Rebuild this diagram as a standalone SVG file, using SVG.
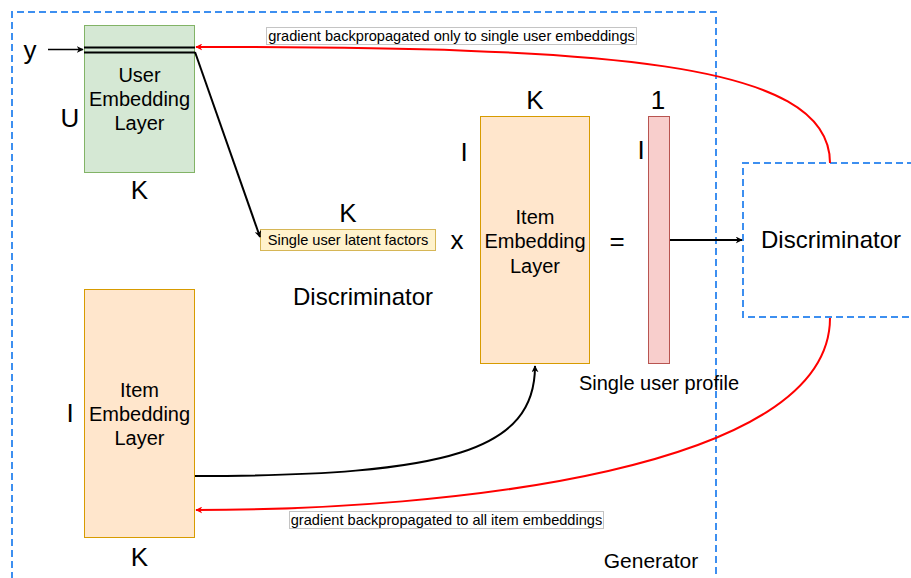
<svg xmlns="http://www.w3.org/2000/svg" width="911" height="578" viewBox="0 0 911 578">
<style>
.t{font-family:"Liberation Sans",Arial,sans-serif;fill:#000}
.big{font-size:26px}
.mid{font-size:20px}
.lbl{font-size:14.6px}
.dash{fill:none;stroke:#3d8ff0;stroke-width:2;stroke-dasharray:7 4}
.red{fill:none;stroke:#ff0000;stroke-width:2}
.blk{fill:none;stroke:#000;stroke-width:2}
</style>
<defs>
<marker id="ar" viewBox="0 0 10 10" refX="9" refY="5" markerWidth="7" markerHeight="7" orient="auto" markerUnits="userSpaceOnUse">
<path d="M0,0 L10,5 L0,10 L3,5 Z" fill="#ff0000"/>
</marker>
<marker id="ab" viewBox="0 0 10 10" refX="9" refY="5" markerWidth="7" markerHeight="7" orient="auto" markerUnits="userSpaceOnUse">
<path d="M0,0 L10,5 L0,10 L3,5 Z" fill="#000"/>
</marker>
</defs>
<rect width="911" height="578" fill="#fff"/>
<g id="generator">
<path class="dash" d="M12,590 L12,12 L716,12 L716,590"/>
<text class="t" x="651" y="568" font-size="21" text-anchor="middle">Generator</text>
</g>
<g id="discriminator">
<path class="dash" d="M925,163 L743,163 L743,317 L925,317"/>
<text class="t" x="831" y="248" font-size="24" text-anchor="middle">Discriminator</text>
</g>
<g id="user-embedding">
<rect x="84.5" y="25.5" width="110" height="147" fill="#d5e8d4" stroke="#82b366"/>
<line x1="84" y1="47.5" x2="195" y2="47.5" stroke="#000" stroke-width="2"/>
<line x1="84" y1="52.5" x2="195" y2="52.5" stroke="#000" stroke-width="2"/>
<text class="t mid" x="139.5" y="82" text-anchor="middle">User</text>
<text class="t mid" x="139.5" y="106" text-anchor="middle">Embedding</text>
<text class="t mid" x="139.5" y="130" text-anchor="middle">Layer</text>
<text class="t big" x="70" y="127" text-anchor="middle">U</text>
<text class="t big" x="139.5" y="199" text-anchor="middle">K</text>
<text class="t big" x="30" y="59" text-anchor="middle">y</text>
</g>
<g id="latent-factors">
<rect x="260.5" y="229.5" width="175" height="21" fill="#fff2cc" stroke="#d6b656"/>
<text class="t" x="348" y="245" font-size="14.6" text-anchor="middle">Single user latent factors</text>
<text class="t big" x="348" y="222" text-anchor="middle">K</text>
<text class="t big" x="457" y="249" text-anchor="middle">x</text>
<text class="t" x="363" y="305" font-size="24" text-anchor="middle">Discriminator</text>
</g>
<g id="item-embedding-right">
<rect x="480.5" y="116.5" width="109" height="247" fill="#ffe6cc" stroke="#d79b00"/>
<text class="t mid" x="535" y="224" text-anchor="middle">Item</text>
<text class="t mid" x="535" y="248" text-anchor="middle">Embedding</text>
<text class="t mid" x="535" y="273" text-anchor="middle">Layer</text>
<text class="t big" x="535" y="109" text-anchor="middle">K</text>
<text class="t big" x="464" y="161" text-anchor="middle">I</text>
<text class="t big" x="617" y="250" text-anchor="middle">=</text>
</g>
<g id="user-profile">
<rect x="648.5" y="116.5" width="21" height="247" fill="#f8cecc" stroke="#b85450"/>
<text class="t big" x="658" y="109" text-anchor="middle">1</text>
<text class="t big" x="641" y="159" text-anchor="middle">I</text>
<text class="t mid" x="659" y="390" text-anchor="middle">Single user profile</text>
</g>
<g id="item-embedding-left">
<rect x="84.5" y="289.5" width="110" height="248" fill="#ffe6cc" stroke="#d79b00"/>
<text class="t mid" x="139.5" y="397" text-anchor="middle">Item</text>
<text class="t mid" x="139.5" y="421" text-anchor="middle">Embedding</text>
<text class="t mid" x="139.5" y="445" text-anchor="middle">Layer</text>
<text class="t big" x="70" y="422" text-anchor="middle">I</text>
<text class="t big" x="139.5" y="566" text-anchor="middle">K</text>
</g>
<g id="connectors">
<line x1="48" y1="49.5" x2="83" y2="49.5" stroke="#000" stroke-width="1.3" marker-end="url(#ab)"/>
<line class="blk" x1="195" y1="52" x2="260" y2="237" marker-end="url(#ab)"/>
<path class="blk" d="M195,476 C450,476 535,450 535,366" marker-end="url(#ab)"/>
<line class="blk" x1="670" y1="240" x2="742" y2="240" marker-end="url(#ab)"/>
<path class="red" d="M830,163 C830,60 600,47 196,47" marker-end="url(#ar)"/>
<path class="red" d="M830,318 C830,470 450,510 196,510" marker-end="url(#ar)"/>
<rect x="266.5" y="27.5" width="370" height="17" fill="#fff" stroke="#c4c4c4"/>
<text class="t lbl" x="451.5" y="41" text-anchor="middle">gradient backpropagated only to single user embeddings</text>
<rect x="289.5" y="511.5" width="314" height="17" fill="#fff" stroke="#c4c4c4"/>
<text class="t lbl" x="446.5" y="525" text-anchor="middle">gradient backpropagated to all item embeddings</text>
</g>
</svg>
